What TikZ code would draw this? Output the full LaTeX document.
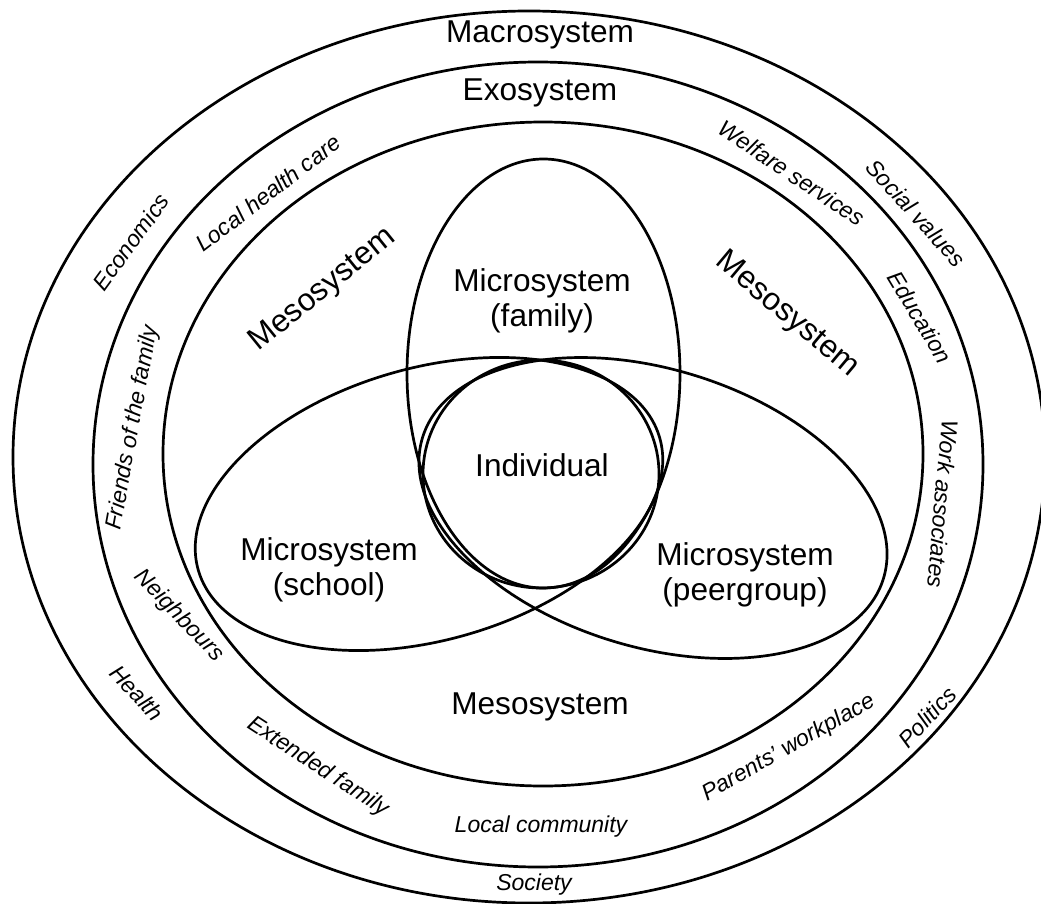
\documentclass[tikz,border=0pt]{standalone}
\usepackage{fontspec}
\setmainfont{Liberation Sans}
\begin{document}
\begin{tikzpicture}[x=1pt,y=-1pt,
  ring/.style={line width=2.7pt},
  big/.style={font=\fontsize{31.6}{35}\selectfont, align=center, inner sep=0pt},
  small/.style={font=\fontsize{23}{26}\selectfont\itshape, inner sep=0pt}]
\clip (0,0) rectangle (1041,904);
\fill[white] (0,0) rectangle (1041,904);

% nested system rings
\draw[ring] (529,457) ellipse [x radius=516, y radius=446];
\draw[ring] (538,464.5) ellipse [x radius=445, y radius=402.5];
\draw[ring] (543,454) ellipse [x radius=380, y radius=332];

% microsystems
\draw[ring] (543.5,373.5) ellipse [x radius=136.5, y radius=214.5];
\draw[ring, rotate around={16:(429,504)}] (429,504) ellipse [x radius=240, y radius=136];
\draw[ring, rotate around={-17:(653,508)}] (653,508) ellipse [x radius=241, y radius=139];

% individual
\draw[ring] (541,474) ellipse [x radius=118, y radius=114];

% main labels
\node[big] (macro) at (540,35) {Macrosystem};
\node[big] (exo) at (540,93) {Exosystem};
\node[big, rotate=39] (mesoL) at (323,290) {Mesosystem};
\node[big, rotate=-40] (mesoR) at (787,315) {Mesosystem};
\node[big] (mesoB) at (540,707) {Mesosystem};
\node[big] (family) at (542,301) {Microsystem\\(family)};
\node[big] (school) at (329,570) {Microsystem\\(school)};
\node[big] (peer) at (745,575) {Microsystem\\(peergroup)};
\node[big] (indiv) at (542,465) {Individual};

% ring contents
\node[small, rotate=54] (econ) at (131,242) {Economics};
\node[small, rotate=37.6] (health care) at (268,193) {Local health care};
\node[small, rotate=-33.7] (welfare) at (792,173) {Welfare services};
\node[small, rotate=-47.7] (values) at (916,213) {Social values};
\node[small, rotate=-59] (edu) at (920,317) {Education};
\node[small, rotate=-95] (work) at (943,504) {Work associates};
\node[small, rotate=79.6] (friends) at (133,428) {Friends of the family};
\node[small, rotate=-46] (neigh) at (179,616) {Neighbours};
\node[small, rotate=-47] (health) at (137,693) {Health};
\node[small, rotate=-33] (ext) at (318,767) {Extended family};
\node[small] (local) at (541,827) {Local community};
\node[small, rotate=29.6] (parents) at (789,748) {Parents’ workplace};
\node[small, rotate=46.8] (politics) at (927,717) {Politics};
\node[small] (society) at (534,885) {Society};
\end{tikzpicture}
\end{document}
